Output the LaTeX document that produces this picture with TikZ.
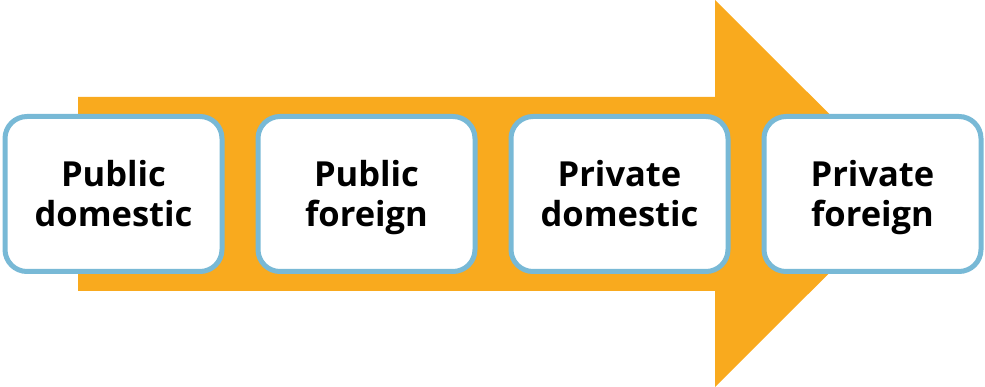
\documentclass[tikz,border=0pt]{standalone}
\usepackage{fontspec}
\setmainfont{Open Sans}
\usetikzlibrary{positioning}
\definecolor{arroworange}{RGB}{249,170,30}
\definecolor{boxblue}{RGB}{120,185,214}
\begin{document}
\begin{tikzpicture}[x=1pt,y=-1pt]
  \tikzset{Stage/.style={rectangle, draw=boxblue, fill=white, line width=5pt, rounded corners=22pt,
      minimum width=217pt, minimum height=155pt, align=center, text height=75pt, text depth=9pt,
      font=\fontsize{34.5}{40}\selectfont\bfseries}};
  \useasboundingbox (0,0) rectangle (985,387);
  % big arrow behind the boxes
  \fill[arroworange] (78,97) -- (715,97) -- (715,0) -- (909,193.5) -- (715,387) -- (715,291) -- (78,291) -- cycle;
  \node[Stage] (pubdom) at (113.5,194) {Public\\domestic};
  \node[Stage][right=31pt of pubdom] (pubfor) {Public\\foreign};
  \node[Stage][right=31pt of pubfor] (privdom) {Private\\domestic};
  \node[Stage][right=31pt of privdom] (privfor) {Private\\foreign};
\end{tikzpicture}
\end{document}
